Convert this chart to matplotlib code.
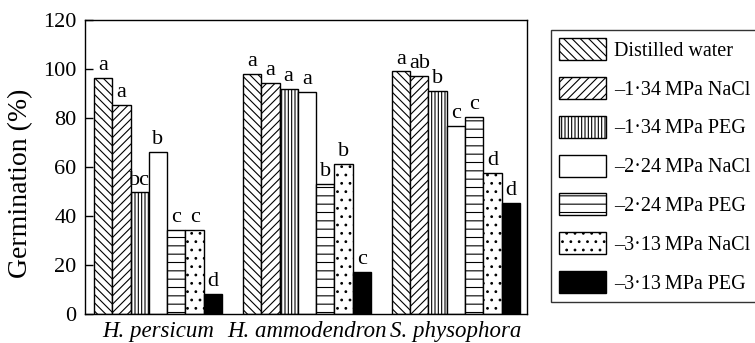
import numpy as np
import matplotlib
matplotlib.use('Agg')
import matplotlib.pyplot as plt

plt.rcParams['font.family'] = ['Liberation Serif', 'DejaVu Serif']
plt.rcParams['hatch.linewidth'] = 0.8

species = ['H. persicum', 'H. ammodendron', 'S. physophora']
treatments = ['Distilled water', '\u20131\u00b734\u2009MPa NaCl', '\u20131\u00b734\u2009MPa PEG',
              '\u20132\u00b724\u2009MPa NaCl', '\u20132\u00b724\u2009MPa PEG',
              '\u20133\u00b713\u2009MPa NaCl', '\u20133\u00b713\u2009MPa PEG']

# germination (%) per treatment, one list per species
persicum = [96.2, 85.3, 49.6, 66.3, 34.3, 34.3, 8.2]
ammodendron = [98.0, 94.4, 91.8, 90.7, 53.1, 61.2, 17.2]
physophora = [99.0, 97.2, 91.2, 76.9, 80.4, 57.5, 45.4]
letters = [['a', 'a', 'bc', 'b', 'c', 'c', 'd'],
           ['a', 'a', 'a', 'a', 'b', 'b', 'c'],
           ['a', 'ab', 'b', 'c', 'c', 'd', 'd']]

values = np.array([persicum, ammodendron, physophora])
hatches = ['\\\\\\\\', '////', '|||||', '', '--', '..', '']
faces = ['white', 'white', 'white', 'white', 'white', 'white', 'black']

fig = plt.figure(figsize=(7.55, 3.43), dpi=100)
ax = fig.add_axes([0.1126, 0.0845, 0.5854, 0.8572])

w = 0.1228
x = np.arange(len(species))
for i, name in enumerate(treatments):
    pos = x - 3 * w + i * w
    ax.bar(pos, values[:, i], width=w, color=faces[i], edgecolor='black',
           hatch=hatches[i], linewidth=1.0, label=name)
    for j in range(len(species)):
        ax.text(pos[j], values[j, i] + 1.2, letters[j][i], ha='center',
                va='bottom', fontsize=16)

ax.set_xlim(-0.49, 2.477)
ax.set_ylim(0, 120)
ax.set_yticks(np.arange(0, 121, 20))
ax.set_xticks(x)
ax.set_xticklabels(species, style='italic', fontsize=16.5)
ax.tick_params(axis='y', direction='in', length=6, labelsize=16, width=1, pad=6)
ax.tick_params(axis='x', length=0, pad=5)
fig.text(21 / 755, 0.466, 'Germination (%)', rotation=90, ha='center',
         va='center', fontsize=20)
for s in ax.spines.values():
    s.set_linewidth(1.0)

leg = fig.legend(loc='upper left', bbox_to_anchor=(0.730, 0.9125), fontsize=14.5,
                 frameon=True, fancybox=False, edgecolor='black',
                 handlelength=2.33, handleheight=1.3, labelspacing=0.8,
                 handletextpad=0.4, borderpad=0.4, borderaxespad=0)
leg.get_frame().set_linewidth(1.0)

fig.savefig('out.png', dpi=100)
